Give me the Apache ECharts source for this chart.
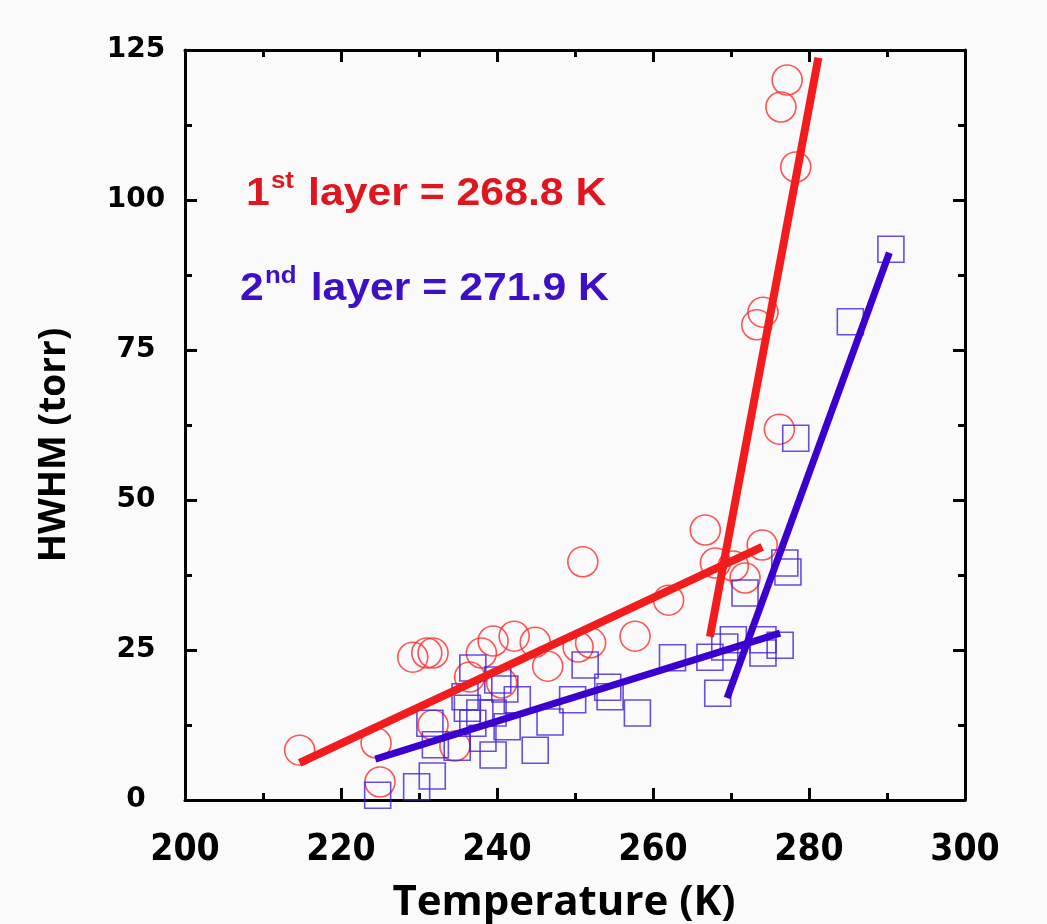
<!DOCTYPE html>
<html>
<head>
<meta charset="utf-8">
<script src="https://cdn.jsdelivr.net/npm/echarts@6/dist/echarts.min.js"></script>
<style>html,body{margin:0;padding:0;background:#fafafa;}#c{width:1047px;height:924px;}</style>
</head>
<body>
<div id="c"></div>
<script>
// ---- data ----
const xTicks = [200, 220, 240, 260, 280, 300];
const yTicks = [0, 25, 50, 75, 100, 125];

// 1st layer: red circles [Temperature K, HWHM torr]
const layer1Points = [
  [214.7, 8.3], [224.5, 9.5], [225.0, 3.0], [229.2, 23.8], [231.0, 24.5],
  [231.8, 24.5], [231.8, 12.5], [234.6, 9.0], [236.5, 20.5], [238.0, 24.5],
  [239.5, 26.5], [240.6, 19.5], [242.2, 27.3], [244.9, 26.3], [246.5, 22.3],
  [250.4, 25.5], [251.0, 39.7], [252.0, 26.2], [257.7, 27.3], [262.0, 33.3],
  [266.7, 45.0], [268.0, 39.5], [270.3, 39.0], [271.8, 37.0], [274.0, 42.5],
  [273.3, 79.2], [274.1, 81.3], [276.2, 61.8], [276.4, 115.5], [277.2, 120.0],
  [278.3, 105.5]
];

// 2nd layer: blue squares
const layer2Points = [
  [224.7, 0.8], [229.7, 2.2], [231.7, 4.0], [231.4, 12.8], [232.1, 9.2],
  [234.9, 8.8], [235.9, 17.2], [236.2, 15.3], [236.9, 22.0], [236.9, 12.8],
  [237.8, 14.5], [238.2, 10.3], [239.5, 14.5], [239.5, 7.5], [240.1, 20.0],
  [241.0, 18.5], [241.3, 12.2], [242.6, 16.7], [244.9, 8.3], [246.8, 13.0],
  [249.7, 16.7], [251.3, 22.5], [254.2, 18.8], [254.5, 17.2], [258.0, 14.5],
  [262.5, 23.7], [267.3, 23.8], [268.3, 17.8], [269.2, 25.5], [270.3, 26.7],
  [271.8, 34.5], [274.1, 26.7], [274.1, 24.5], [276.3, 25.8], [276.9, 39.5],
  [277.3, 38.0], [278.3, 60.3], [285.3, 79.7], [290.5, 91.8]
];

// fitted lines (end points)
const layer1FitLow   = [[214.7, 6.2], [274.0, 42.2]];
const layer1FitSteep = [[267.3, 27.2], [281.2, 123.7]];
const layer2FitLow   = [[224.4, 6.8], [276.3, 27.8]];
const layer2FitSteep = [[269.5, 17.0], [290.3, 91.2]];

const layer1Label = ['1', 'st', ' layer = 268.8 K'];
const layer2Label = ['2', 'nd', ' layer = 271.9 K'];

// ---- chart ----
const RED = '#f21c1c';
const BLUE = '#3a00cf';
const chart = echarts.init(document.getElementById('c'));

const tickCommon = {
  axisLine: { show: true, onZero: false, lineStyle: { color: '#000', width: 3 } },
  axisTick: { show: true, inside: true, length: 12, lineStyle: { color: '#000', width: 3 } },
  minorTick: { show: true, splitNumber: 2, length: 7, lineStyle: { color: '#000', width: 3 } },
  splitLine: { show: false },
  minorSplitLine: { show: false }
};

function richLabel(parts, color) {
  return {
    text: '{a|' + parts[0] + '}{s|' + parts[1] + '}{a|' + parts[2] + '}',
    rich: {
      a: { fontFamily: 'Liberation Sans, Arial', fontWeight: 'bold', fontSize: 38, fill: color, verticalAlign: 'bottom', lineHeight: 44 },
      s: { fontFamily: 'Liberation Sans, Arial', fontWeight: 'bold', fontSize: 23, fill: color, verticalAlign: 'top', lineHeight: 44, padding: [0, 2, 14, 1] }
    }
  };
}

chart.setOption({
  backgroundColor: '#fafafa',
  animation: false,
  grid: { left: 185, right: 82, top: 50, bottom: 124, containLabel: false, outerBoundsMode: 'none' },
  xAxis: [
    Object.assign({
      type: 'value', min: 200, max: 300, interval: 20, position: 'bottom',
      name: 'Temperature (K)', nameLocation: 'middle', nameGap: 82,
      nameTextStyle: { fontFamily: 'Open Sans', fontWeight: 'bold', fontSize: 42, color: '#000', padding: [0, 22, 0, 0] },
      axisLabel: {
        margin: 32, color: '#000', fontSize: 37, fontWeight: 'bold',
        fontFamily: 'Liberation Sans Narrow, DejaVu Sans Condensed, sans-serif',
        formatter: v => (xTicks.indexOf(v) >= 0 ? String(v) : '')
      }
    }, tickCommon),
    Object.assign({
      type: 'value', min: 200, max: 300, interval: 20, position: 'top',
      axisLabel: { show: false }
    }, tickCommon)
  ],
  yAxis: [
    Object.assign({
      type: 'value', min: 0, max: 125, interval: 25, position: 'left',
      name: 'HWHM (torr)', nameLocation: 'middle', nameGap: 112,
      nameTextStyle: { fontFamily: 'Open Sans', fontWeight: 'bold', fontSize: 37, color: '#000', padding: [0, 40, 0, 0] },
      axisLabel: {
        margin: 49, align: 'center', color: '#000', fontSize: 28, fontWeight: 'bold',
        fontFamily: 'DejaVu Sans, Verdana, sans-serif',
        formatter: v => (yTicks.indexOf(v) >= 0 ? String(v) : '')
      }
    }, tickCommon),
    Object.assign({
      type: 'value', min: 0, max: 125, interval: 25, position: 'right',
      axisLabel: { show: false }
    }, tickCommon)
  ],
  series: [
    {
      type: 'scatter', data: layer1Points, symbol: 'circle', symbolSize: 30,
      itemStyle: { color: 'rgba(0,0,0,0)', borderColor: '#ff2a2a', borderWidth: 1.6 },
      z: 2
    },
    {
      type: 'scatter', data: layer2Points, symbol: 'rect', symbolSize: 26,
      itemStyle: { color: 'rgba(0,0,0,0)', borderColor: '#4422d6', borderWidth: 1.6 },
      z: 3
    },
    { type: 'line', data: layer1FitLow, showSymbol: false, lineStyle: { color: RED, width: 8 }, z: 4 },
    { type: 'line', data: layer1FitSteep, showSymbol: false, lineStyle: { color: RED, width: 8 }, z: 4 },
    { type: 'line', data: layer2FitLow, showSymbol: false, lineStyle: { color: BLUE, width: 7 }, z: 5 },
    { type: 'line', data: layer2FitSteep, showSymbol: false, lineStyle: { color: BLUE, width: 7 }, z: 5 }
  ],
  graphic: [
    { type: 'text', x: 246, y: 170, scaleX: 1.125, z: 10, style: richLabel(layer1Label, '#e0161e') },
    { type: 'text', x: 240, y: 265, scaleX: 1.125, z: 10, style: richLabel(layer2Label, '#3d10c8') }
  ]
});
</script>
</body>
</html>
